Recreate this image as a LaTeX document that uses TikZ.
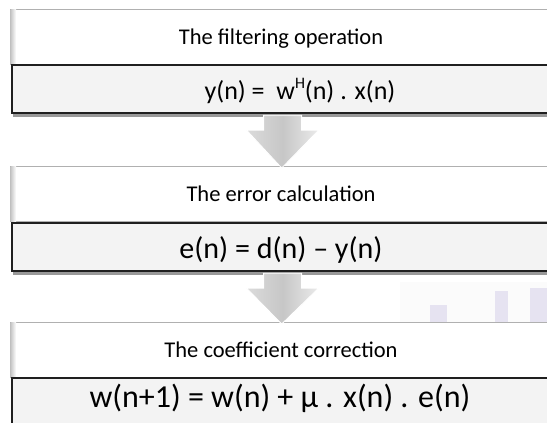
\documentclass[tikz,border=0pt]{standalone}
\usepackage{fontspec}
\setmainfont{Carlito}
\usetikzlibrary{shadows,calc}
\definecolor{hdrline}{HTML}{B0B0B0}
\definecolor{formfill}{HTML}{F3F3F3}
\definecolor{wmark}{HTML}{E6E3F1}
\newcommand\blockarrow[2]{%
  \path[blockarr] ($(#1)+(-19,1)$) -- ($(#1)+(19,1)$) -- ($(#1)+(19,16)$) -- ($(#1)+(36,16)$)
    -- ($(#2)+(0,2)$) -- ($(#1)+(-36,16)$) -- ($(#1)+(-19,16)$) -- cycle;}
\newcommand\bevel[1]{%
  \shade[left color=black!22, right color=white] ($(#1.north west)+(0.7,0.7)$) rectangle ($(#1.south west)+(6,-0.7)$);}
\begin{document}
\begin{tikzpicture}[x=1pt,y=-1pt,
  header/.style={draw=hdrline, line width=1.4pt, fill=white, minimum width=542pt,
    minimum height=55pt, inner sep=0pt, anchor=north west},
  formula/.style={draw=black!88, line width=2.2pt, fill=formfill, minimum width=541pt,
    minimum height=48pt, inner sep=0pt, anchor=north west,
    drop shadow={shadow xshift=1pt, shadow yshift=-4pt, opacity=0.4, fill=black}},
  htext/.style={anchor=base, inner sep=0pt, font=\fontsize{22.5}{26}\selectfont},
  ftext/.style={anchor=base, inner sep=0pt, font=\fontsize{30}{34}\selectfont},
  blockarr/.style={draw=white, line width=0.8pt, left color=black!14, right color=black!8,
    middle color=black!22},
  wm/.style={fill=wmark, draw=none}]
\useasboundingbox (0,0) rectangle (547,423);
\fill[white] (0,0) rectangle (547,423);
% faint background marks
\fill[black!1.5] (400,282) rectangle (547,322);
\fill[wm] (430,305) rectangle (447,322);
\fill[wm] (495,291) rectangle (508,322);
\fill[wm] (530,288) rectangle (547,322);
% boxes
\node[header] (h1) at (10,9) {};
\bevel{h1}
\node[formula] (f1) at (11,64) {};
\node[header] (h2) at (10,166) {};
\bevel{h2}
\node[formula] (f2) at (11,222) {};
\node[header] (h3) at (10,322) {};
\bevel{h3}
\node[formula, minimum height=60pt] (f3) at (11,377) {};
% texts
\node[htext] (t1) at (281,44.5) {The filtering operation};
\node[ftext, font=\fontsize{26}{30}\selectfont] (e1) at (300,99.5) {y(n) =\ \ w\raisebox{0.42em}{\fontsize{16}{16}\selectfont H}(n) . x(n)};
\node[htext] (t2) at (281,201.5) {The error calculation};
\node[ftext] (e2) at (281,258) {e(n) = d(n) – y(n)};
\node[htext] (t3) at (281,357.5) {The coefficient correction};
\node[ftext, font=\fontsize{32}{36}\selectfont] (e3) at (280,407.5) {w(n+1) = w(n) + μ . x(n) . e(n)};
% arrows
\blockarrow{f1.south}{h2.north}
\blockarrow{f2.south}{h3.north}
\end{tikzpicture}
\end{document}
